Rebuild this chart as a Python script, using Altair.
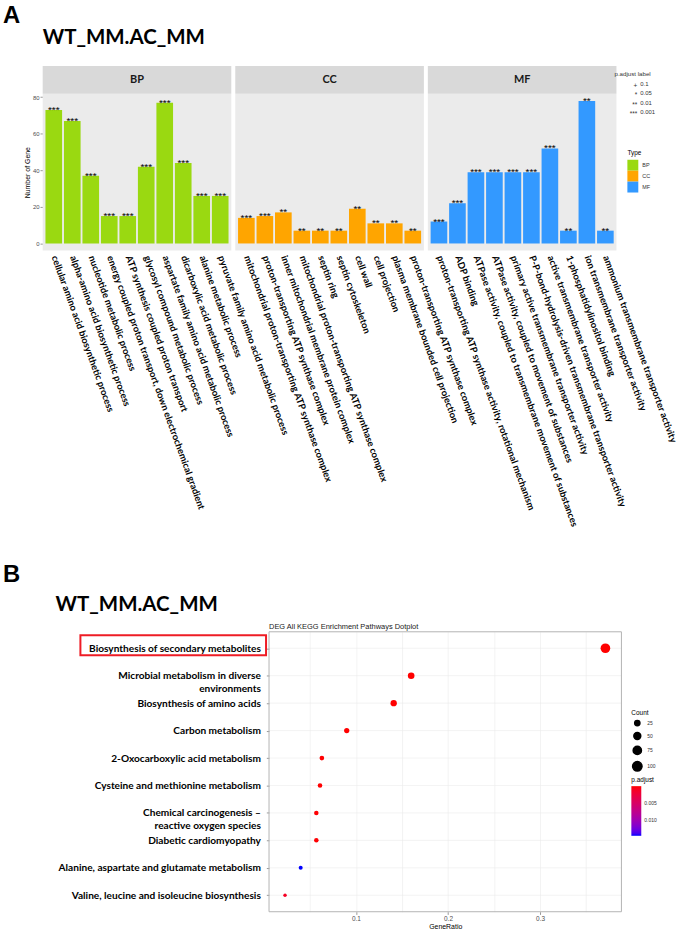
import json
import altair as alt
import pandas as pd

# ---------------- data ----------------
panel_title = "WT_MM.AC_MM"

types = ["BP", "CC", "MF"]
type_colors = ["#9AD911", "#FFA500", "#3399FF"]

bp_terms = [
    "cellular amino acid biosynthetic process",
    "alpha-amino acid biosynthetic process",
    "nucleotide metabolic process",
    "energy coupled proton transport, down electrochemical gradient",
    "ATP synthesis coupled proton transport",
    "glycosyl compound metabolic process",
    "aspartate family amino acid metabolic process",
    "dicarboxylic acid metabolic process",
    "alanine metabolic process",
    "pyruvate family amino acid metabolic process",
]
bp_counts = [73, 67, 37, 15, 15, 42, 77, 44, 26, 26]
bp_sig = ["***", "***", "***", "***", "***", "***", "***", "***", "***", "***"]

cc_terms = [
    "mitochondrial proton-transporting ATP synthase complex",
    "proton-transporting ATP synthase complex",
    "inner mitochondrial membrane protein complex",
    "mitochondrial proton-transporting ATP synthase complex",
    "septin ring",
    "septin cytoskeleton",
    "cell wall",
    "cell projection",
    "plasma membrane bounded cell projection",
    "proton-transporting ATP synthase complex",
]
cc_counts = [14, 15, 17, 7, 7, 7, 19, 11, 11, 7]
cc_sig = ["***", "***", "**", "**", "**", "**", "**", "**", "**", "**"]

mf_terms = [
    "proton-transporting ATP synthase activity, rotational mechanism",
    "ADP binding",
    "ATPase activity, coupled to transmembrane movement of substances",
    "ATPase activity, coupled to movement of substances",
    "primary active transmembrane transporter activity",
    "P-P-bond-hydrolysis-driven transmembrane transporter activity",
    "active transmembrane transporter activity",
    "1-phosphatidylinositol binding",
    "ion transmembrane transporter activity",
    "ammonium transmembrane transporter activity",
]
mf_counts = [12, 22, 39, 39, 39, 39, 52, 7, 78, 7]
mf_sig = ["***", "***", "***", "***", "***", "***", "***", "**", "**", "**"]

y_ticks = [0, 20, 40, 60, 80]

padj_label_symbols = ["+", "*", "**", "***"]
padj_label_values = ["0.1", "0.05", "0.01", "0.001"]

kegg_pathways = [
    "Biosynthesis of secondary metabolites",
    "Microbial metabolism in diverse|environments",
    "Biosynthesis of amino acids",
    "Carbon metabolism",
    "2-Oxocarboxylic acid metabolism",
    "Cysteine and methionine metabolism",
    "Chemical carcinogenesis \u2013|reactive oxygen species",
    "Diabetic cardiomyopathy",
    "Alanine, aspartate and glutamate metabolism",
    "Valine, leucine and isoleucine biosynthesis",
]
kegg_gene_ratio = [0.371, 0.160, 0.141, 0.090, 0.063, 0.061, 0.057, 0.057, 0.040, 0.023]
kegg_count = [104, 45, 40, 25, 18, 17, 16, 16, 11, 6]
kegg_padj = [1e-12, 1e-8, 1e-9, 1e-5, 5e-5, 6e-5, 8e-5, 8e-5, 0.0147, 0.0012]
kegg_highlight = "Biosynthesis of secondary metabolites"
count_legend_values = [25, 50, 75, 100]
padj_legend_values = [0.005, 0.010]
ratio_grid = [0.05, 0.10, 0.15, 0.20, 0.25, 0.30, 0.35]

# ---------------- style / layout constants ----------------
CAL = "Lato"
ARIAL = "Liberation Sans"

PANEL_W = 190.0      # px width of each facet panel
GAP = 4.0            # px gap between panels
LEFT = 42.0          # px from page left to first panel
BAR_H = 158          # px panel height
TOP = 91             # px from page top to panels
unit_px = PANEL_W / 10.2
panel_step = round(10.2 + GAP / unit_px, 4)
x_min = -LEFT / unit_px
x_max = 2 * panel_step + 10.2
bars_width = LEFT + x_max * unit_px

DOT_LEFT = 270.0
DOT_W = 355.0
DOT_H = 282
DOT_TOP = 633
R0, R1 = 0.0056, 0.3884
kpx = (R1 - R0) / DOT_W
d_min = R0 - DOT_LEFT * kpx


def label(text, x, y, size, font, weight="normal", align="left", color="#000000", baseline="alphabetic"):
    return alt.Chart(pd.DataFrame({"t": [text]})).mark_text(
        font=font, fontSize=size, fontWeight=weight, align=align,
        baseline=baseline, color=color,
    ).encode(x=alt.value(x), y=alt.value(y), text="t:N")


def spacer(h):
    return alt.Chart(pd.DataFrame({"a": [0]})).mark_point(opacity=0).properties(width=600, height=h)


# ---------------- panel A (one layered chart) ----------------
rows = []
for p, (t, terms, counts, sig) in enumerate(zip(types, [bp_terms, cc_terms, mf_terms],
                                                [bp_counts, cc_counts, mf_counts],
                                                [bp_sig, cc_sig, mf_sig])):
    for i in range(len(terms)):
        rows.append({"Type": t, "panel": p, "idx": i, "term": terms[i], "n": counts[i], "sig": sig[i]})
bars_df = pd.DataFrame(rows)
panels_df = pd.DataFrame({"Type": types, "panel": list(range(len(types)))})

all_terms = bp_terms + cc_terms + mf_terms
tick_vals = [round(p * panel_step + 0.6 + i, 4) for p in range(3) for i in range(10)]
label_expr = (json.dumps(all_terms) +
              f"[floor(datum.value/{panel_step})*10 + round(datum.value - floor(datum.value/{panel_step})*{panel_step} - 0.6)]")

xaxis = alt.Axis(title=None, values=tick_vals, labelExpr=label_expr, labelAngle=70, labelAlign="left",
                 labelBaseline="middle", labelFont=CAL, labelFontWeight="bold", labelFontSize=9.5,
                 labelColor="#000000", labelLimit=600, labelOverlap=False, labelPadding=5,
                 ticks=False, domain=False, labelFlush=False, labelBound=False, grid=False)
xscale = alt.Scale(domain=[x_min, x_max], nice=False, zero=False)
yaxis = alt.Axis(values=y_ticks, title="Number of Gene", titleFont=ARIAL, titleFontSize=7,
                 titleFontWeight="normal", titleColor="#000000", titlePadding=2, offset=-LEFT,
                 labelFont=ARIAL, labelFontSize=6, labelColor="#4D4D4D", labelPadding=1,
                 tickSize=2.7, tickColor="#333333", tickWidth=0.5, domain=False, grid=False)
yscale = alt.Scale(domain=[-3.9, 81.9], nice=False, zero=False)

pbase = alt.Chart(panels_df).transform_calculate(
    pstart=f"datum.panel*{panel_step}", pend=f"datum.panel*{panel_step} + 10.2",
    pmid=f"datum.panel*{panel_step} + 5.1")
panel_bg = pbase.mark_rect(fill="#EBEBEB").encode(
    x=alt.X("pstart:Q", scale=xscale, axis=xaxis), x2="pend:Q",
    y=alt.value(0), y2=alt.value(BAR_H))
strip_bg = pbase.mark_rect(fill="#D9D9D9").encode(
    x=alt.X("pstart:Q", scale=xscale, axis=xaxis), x2="pend:Q",
    y=alt.value(-28), y2=alt.value(0))
strip_txt = pbase.mark_text(font=CAL, fontSize=11, fontWeight="bold", color="#1A1A1A",
                            baseline="middle").encode(
    x=alt.X("pmid:Q", scale=xscale, axis=xaxis), y=alt.value(-13.5), text="Type:N")

bbase = alt.Chart(bars_df).transform_calculate(
    ctr=f"datum.panel*{panel_step} + 0.6 + datum.idx",
    x0=f"datum.panel*{panel_step} + 0.15 + datum.idx",
    x1=f"datum.panel*{panel_step} + 1.05 + datum.idx")
bars = bbase.mark_rect().encode(
    x=alt.X("x0:Q", scale=xscale, axis=xaxis), x2="x1:Q",
    y=alt.Y("n:Q", scale=yscale, axis=yaxis), y2=alt.datum(0),
    color=alt.Color("Type:N", scale=alt.Scale(domain=types, range=type_colors),
                    legend=alt.Legend(title="Type", orient="none", legendX=631, legendY=57,
                                      symbolType="square", symbolSize=121, symbolStrokeWidth=0,
                                      rowPadding=0, titleFont=ARIAL, titleFontSize=6.5,
                                      titleFontWeight="normal", titleColor="#000000",
                                      titlePadding=3, labelFont=ARIAL, labelFontSize=5.5,
                                      labelColor="#333333", labelOffset=4)))
sig_txt = bbase.mark_text(font=ARIAL, fontSize=10, baseline="alphabetic", dy=3,
                          color="#000000").encode(
    x=alt.X("ctr:Q", scale=xscale, axis=xaxis),
    y=alt.Y("n:Q", scale=yscale, axis=yaxis), text="sig:N")

padj_df = pd.DataFrame({"sym": padj_label_symbols, "val": padj_label_values, "i": list(range(4))})
padj_title = label("p.adjust label", 618, 73 - TOP, 6.2, ARIAL, color="#333333")
padj_sym = alt.Chart(padj_df).transform_calculate(py=f"{83 - TOP} + 9.6*datum.i").mark_text(
    font=ARIAL, fontSize=6.5, align="right", baseline="middle", color="#333333"
).encode(x=alt.value(641), y=alt.Y("py:Q", scale=None), text="sym:N")
padj_val = alt.Chart(padj_df).transform_calculate(py=f"{81 - TOP} + 9.6*datum.i").mark_text(
    font=ARIAL, fontSize=6, align="left", baseline="middle", color="#333333"
).encode(x=alt.value(644), y=alt.Y("py:Q", scale=None), text="val:N")

panelA = alt.layer(
    panel_bg, strip_bg, strip_txt, bars, sig_txt,
    label("A", 2, 1 - TOP, 24, ARIAL, "bold", baseline="top"),
    label(panel_title, 42, 41 - TOP, 20.6, CAL, "bold"),
    padj_title, padj_sym, padj_val,
).properties(width=bars_width, height=BAR_H)

# ---------------- panel B (one layered chart) ----------------
dot_df = pd.DataFrame({"pathway": kegg_pathways, "ratio": kegg_gene_ratio,
                       "Count": kegg_count, "padj": kegg_padj})

ydot = alt.Y("pathway:N", sort=kegg_pathways, scale=alt.Scale(type="point", padding=0.6),
             axis=alt.Axis(title=None, labelExpr="split(datum.label, '|')", labelFont=CAL,
                           labelFontWeight="bold", labelFontSize=10.2, labelColor="#000000",
                           labelLimit=500, labelPadding=6, labelLineHeight=12.7, offset=-DOT_LEFT,
                           tickSize=2.7, tickColor="#333333", tickWidth=0.5, domain=False,
                           grid=False))
xdot_scale = alt.Scale(domain=[d_min, R1], nice=False, zero=False)
xdot = alt.X("ratio:Q", scale=xdot_scale,
             axis=alt.Axis(title="GeneRatio", values=ratio_grid,
                           labelExpr="round(datum.value*100) % 10 == 0 ? format(datum.value, '.1f') : ''",
                           labelFont=ARIAL, labelFontSize=6.5, labelColor="#4D4D4D", labelPadding=1,
                           tickSize=2.7, tickColor="#333333", tickWidth=0.5,
                           tickOpacity={"condition": {"test": "round(datum.value*100) % 10 == 0", "value": 1}, "value": 0},
                           titleFont=ARIAL, titleFontSize=7, titleFontWeight="normal",
                           titleColor="#000000", titlePadding=1, titleX=DOT_LEFT + DOT_W / 2,
                           domain=False, grid=True, gridColor="#EBEBEB", gridWidth=0.6))

hgrid = alt.Chart(dot_df).mark_rule(color="#EBEBEB", strokeWidth=0.6).encode(
    x=alt.X(datum=R0, scale=xdot_scale), x2=alt.datum(R1), y=ydot)
border = alt.Chart(pd.DataFrame({"a": [0]})).mark_rect(
    fill="transparent", stroke="#B3B3B3", strokeWidth=1).encode(
    x=alt.X(datum=R0, scale=xdot_scale), x2=alt.datum(R1), y=alt.value(0), y2=alt.value(DOT_H))

dots = alt.Chart(dot_df).mark_circle(opacity=1).encode(
    x=xdot, y=ydot,
    size=alt.Size("Count:Q", scale=alt.Scale(domain=[6, 104], range=[12.3, 93.6]),
                  legend=alt.Legend(title="Count", values=count_legend_values, orient="none",
                                    legendX=635, legendY=79, symbolType="circle",
                                    symbolFillColor="#000000", symbolStrokeColor="#000000",
                                    symbolOpacity=1, rowPadding=0, titleFont=ARIAL,
                                    titleFontSize=6.5, titleFontWeight="normal",
                                    titleColor="#000000", titlePadding=3, labelFont=ARIAL,
                                    labelFontSize=5, labelColor="#333333", labelOffset=4)),
    color=alt.Color("padj:Q", scale=alt.Scale(domain=[0.0147, 0.0], range=["#0000FF", "#FF0000"],
                                              interpolate="lab", zero=False, nice=False),
                    legend=alt.Legend(title="p.adjust", values=padj_legend_values, format=".3f",
                                      orient="none", legendX=635, legendY=146,
                                      gradientLength=50, gradientThickness=10,
                                      titleFont=ARIAL, titleFontSize=6.5, titleFontWeight="normal",
                                      titleColor="#000000", titlePadding=3, labelFont=ARIAL,
                                      labelFontSize=5, labelColor="#333333", labelOffset=3)),
)

box = alt.Chart(dot_df).transform_filter(alt.datum.pathway == kegg_highlight).mark_point(
    shape="M-1,-0.139L1,-0.139L1,0.075L-1,0.075Z", size=187 * 187, filled=False,
    stroke="#EE1C25", strokeWidth=2, opacity=1,
).encode(x=alt.value(173.5), y=ydot)

panelB = alt.layer(
    hgrid, border, dots, box,
    label("DEG All KEGG Enrichment Pathways Dotplot", DOT_LEFT, -3.3, 7.5, ARIAL, color="#1A1A1A"),
    label("B", 2, 583 - DOT_TOP, 24, ARIAL, "bold"),
    label(panel_title, 55, 612 - DOT_TOP, 20.6, CAL, "bold"),
).properties(width=DOT_LEFT + DOT_W, height=DOT_H)

chart = alt.vconcat(
    spacer(TOP), panelA, spacer(DOT_TOP - TOP - BAR_H), panelB,
    spacing=0, bounds="flush",
).resolve_scale(color="independent", size="independent").properties(
    padding=0, background="white"
).configure_view(stroke="transparent")

chart.save("out.html", embed_options={"renderer": "svg", "actions": False})
